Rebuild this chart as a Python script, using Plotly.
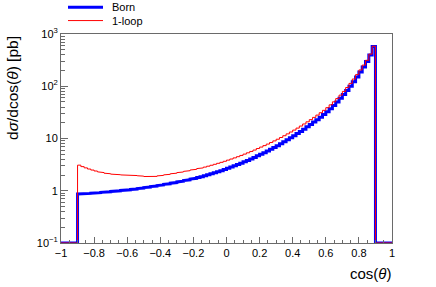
import numpy as np
import plotly.graph_objects as go

# Histogram binning: 100 bins of width 0.02 on cos(theta) in [-1, 1]
bin_edges = np.round(np.linspace(-1.0, 1.0, 101), 2)

# Bin contents for cos(theta) bins -0.90 ... 0.90 (90 bins); bins beyond |cos|>0.9 are empty
born_inner = [
    0.865, 0.873, 0.881, 0.889, 0.899, 0.910, 0.920, 0.931, 0.942, 0.955,
    0.968, 0.982, 0.995, 1.012, 1.028, 1.045, 1.062, 1.081, 1.102, 1.125,
    1.148, 1.175, 1.202, 1.230, 1.259, 1.291, 1.324, 1.358, 1.396, 1.435,
    1.476, 1.521, 1.567, 1.618, 1.671, 1.726, 1.786, 1.849, 1.928, 2.014,
    2.104, 2.203, 2.312, 2.427, 2.553, 2.692, 2.838, 2.999, 3.177, 3.373,
    3.581, 3.811, 4.064, 4.345, 4.656, 4.989, 5.358, 5.768, 6.223, 6.730,
    7.295, 7.925, 8.630, 9.419, 10.30, 11.30, 12.42, 13.68, 15.10, 16.71,
    18.54, 20.61, 22.96, 25.64, 28.71, 32.51, 37.15, 42.85, 49.89, 58.61,
    69.50, 83.18, 100.5, 122.5, 150.7, 187.1, 234.4, 296.5, 398.1, 575.4,
]
oneloop_inner = [
    3.090, 2.897, 2.742, 2.606, 2.489, 2.388, 2.301, 2.228, 2.168, 2.118,
    2.080, 2.051, 2.028, 2.009, 1.995, 1.982, 1.968, 1.954, 1.936, 1.905,
    1.871, 1.841, 1.824, 1.884, 1.923, 1.968, 2.014, 2.061, 2.113, 2.168,
    2.223, 2.286, 2.350, 2.421, 2.495, 2.570, 2.655, 2.735, 2.838, 2.951,
    3.076, 3.206, 3.350, 3.499, 3.664, 3.855, 4.046, 4.256, 4.487, 4.742,
    5.023, 5.321, 5.649, 6.012, 6.427, 6.855, 7.311, 7.816, 8.375, 8.995,
    9.683, 10.45, 11.30, 12.25, 13.30, 14.49, 15.81, 17.30, 18.97, 20.84,
    22.96, 25.35, 28.05, 31.12, 34.59, 38.90, 44.06, 50.35, 58.08, 67.61,
    79.62, 94.62, 113.5, 137.4, 167.1, 205.1, 254.1, 314.1, 412.1, 582.1,
]
empty = [0.0] * 5
born = empty + born_inner + empty
oneloop = empty + oneloop_inner + empty

y_ticks = [0.1, 1, 10, 100, 1000]
y_tick_labels = ["10<sup>\u22121</sup>", "1", "10", "10<sup>2</sup>", "10<sup>3</sup>"]
series_names = ["Born", "1-loop"]
series_colors = ["#0000ff", "#ff0000"]
series_widths = [3, 1]

Y_MIN, Y_MAX = 0.1, 1000.0


def step_xy(values):
    xs, ys = [], []
    for i, v in enumerate(values):
        v = max(v, Y_MIN)
        xs += [bin_edges[i], bin_edges[i + 1]]
        ys += [v, v]
    return xs, ys


fig = go.Figure()
for vals, name, col, w in zip([born, oneloop], series_names, series_colors, series_widths):
    xs, ys = step_xy(vals)
    fig.add_trace(go.Scatter(x=xs, y=ys, mode="lines", name=name,
                             line=dict(color=col, width=w), showlegend=False))

FONT = "Liberation Sans, Arial, Helvetica, sans-serif"
L, R, T, B = 61, 392, 33.5, 243.5
W, H = 436, 287
PW, PH = R - L, B - T


def px(xp):
    return (xp - L) / PW


def py(yp):
    return (B - yp) / PH


axis_col = "#6a6a6a"
fig.update_layout(
    width=W, height=H,
    margin=dict(l=L, r=W - R, t=T, b=H - B, pad=0),
    paper_bgcolor="white", plot_bgcolor="white",
    font=dict(family=FONT, size=11, color="black"),
    xaxis=dict(range=[-1, 1], showgrid=False, zeroline=False,
               showline=True, mirror=True, linecolor=axis_col, linewidth=1,
               ticks="inside", ticklen=6, tickcolor=axis_col, dtick=0.2, tick0=-1,
               tickfont=dict(size=11),
               minor=dict(ticks="inside", ticklen=3, dtick=0.05, tickcolor=axis_col, showgrid=False)),
    yaxis=dict(type="log", range=[np.log10(Y_MIN), np.log10(Y_MAX)], showgrid=False, zeroline=False,
               showline=True, mirror=True, linecolor=axis_col, linewidth=1,
               ticks="inside", ticklen=7, tickcolor=axis_col,
               tickvals=y_ticks, ticktext=y_tick_labels, tickfont=dict(size=11),
               minor=dict(ticks="inside", ticklen=4, dtick="D1", tickcolor=axis_col, showgrid=False)),
)

# axis titles
fig.add_annotation(text="d<i>\u03c3</i>/dcos(<i>\u03b8</i>) [pb]", xref="paper", yref="paper",
                   x=px(12.5), y=py(34), xanchor="center", yanchor="top",
                   textangle=-90, showarrow=False, font=dict(size=15.5))
fig.add_annotation(text="cos(<i>\u03b8</i>)", xref="paper", yref="paper",
                   x=px(393), y=py(274), xanchor="right", yanchor="middle",
                   showarrow=False, font=dict(size=15))

# legend (drawn above the frame like the ROOT TLegend)
for i, (name, col, w) in enumerate(zip(series_names, series_colors, series_widths)):
    yl = 6.5 + 13.5 * i
    fig.add_shape(type="line", xref="paper", yref="paper",
                  x0=px(68), x1=px(103), y0=py(yl), y1=py(yl),
                  line=dict(color=col, width=w))
    fig.add_annotation(text=name, xref="paper", yref="paper", x=px(110), y=py(yl),
                       xanchor="left", yanchor="middle", showarrow=False,
                       font=dict(size=11))

fig.write_html("out.html", config={"displayModeBar": False},
               post_script="document.body.style.margin='0';document.body.style.padding='0';")
